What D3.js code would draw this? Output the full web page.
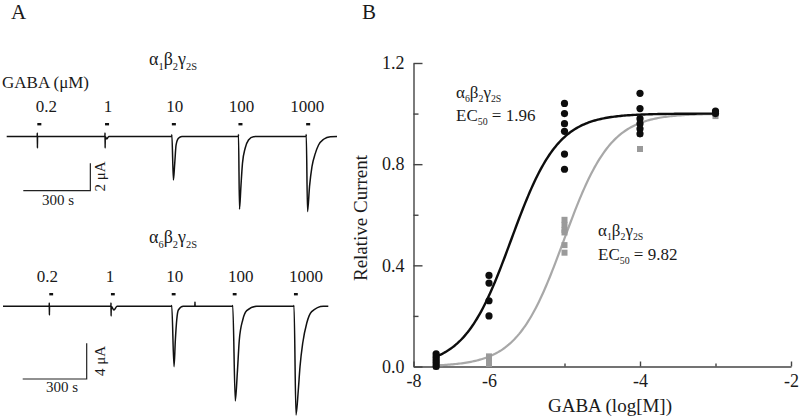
<!DOCTYPE html>
<html><head><meta charset="utf-8">
<script src="https://cdn.jsdelivr.net/npm/d3@7"></script>
<style>
body{margin:0;background:#fff}
svg{display:block}
text{font-family:"Liberation Serif","Times New Roman",serif;fill:#1a1a1a}
</style>
</head><body>
<svg id="c" width="800" height="418"></svg>
<script>
// ---------------- DATA ----------------
// Panel A: GABA concentrations (µM) applied
const concLabels = ["0.2", "1", "10", "100", "1000"];
// application onset times (s) for each trace
const applyTopT = [137, 440, 739, 1037, 1340];
const applyBotT = [217, 506, 791, 1077, 1364];
// current traces: [time (s), current (µA)]
const traceTop = [
  [0,0],[136.5,0],[137,0.26],[137.5,-0.84],[138,0],
  [439.5,0],[440,0.26],[440.5,-0.84],[441,0],[448,-0.18],[457,0],
  [738.5,0],[739,0.12],[746,-3.18],[752,-1.93],[758,-0.62],[768.5,-0.13],[784,0],
  [1036.8,0],[1037.2,0.15],[1041.7,-5.31],[1048,-3.66],[1055,-1.96],[1067,-0.86],[1082,-0.26],[1104,-0.01],[1134,0],
  [1340,0],[1340.4,0.15],[1346.2,-5.49],[1355,-3.66],[1366,-2.2],[1381,-1.23],[1395.5,-0.62],[1418,-0.2],[1448,-0.01],[1478,0]
];
const traceBot = [
  [0,0],[216.5,0],[217,0.37],[217.5,-0.97],[218,0],
  [505.8,0],[506.3,0.37],[506.8,-1.08],[507.3,0],[520,-0.41],[535,0],
  [790.5,0],[791,0.1],[801.7,-6.76],[808,-3.77],[814.4,-1.53],[822,-0.41],[845,0],
  [899.5,0],[900,0.48],[900.5,0],
  [1076.5,0],[1077,0.1],[1089,-10.6],[1098.4,-7.5],[1107.8,-3.77],[1123.8,-1.53],[1142.5,-0.49],[1189,0],
  [1363.8,0],[1364.2,0.1],[1373.6,-12.17],[1384.4,-9.37],[1392.4,-6.76],[1405,-4.14],[1423.8,-1.9],[1447,-0.6],[1501.6,0],[1525,0]
];
const scaleBarTime = 300;      // s
const scaleBarTopAmp = 2;      // µA
const scaleBarBotAmp = 4;      // µA

// Panel B: concentration-response
const logConc = [-6.7, -6, -5, -4, -3];
const alpha6Vals = [
  [0.05,0.04,0.03,0.02,0.01,0.0],
  [0.36,0.33,0.26,0.20],
  [1.04,1.00,0.96,0.93,0.84,0.78],
  [1.08,1.02,0.98,0.96,0.94,0.92],
  [1.01,1.0]
];
const alpha1Vals = [
  [0.01,0.0],
  [0.04,0.03,0.02,0.01],
  [0.58,0.56,0.54,0.53,0.48,0.45],
  [0.97,0.95,0.93,0.92,0.86],
  [1.0,0.99]
];
const ec50Alpha6 = 1.96;   // µM
const ec50Alpha1 = 9.82;   // µM
const hillSlope = 1.4;
const yTickValues = [0, 0.4, 0.8, 1.2];
const yMinorTicks = [0.2, 0.6, 1.0];
const xTickValues = [-7, -6, -4, -2];
const xTickLabels = ["-8", "-6", "-4", "-2"];
const xMinorTicks = [-5, -3];

// ---------------- DRAW ----------------
const svg = d3.select("#c");

function rich(g, x, y, parts, size, anchor) {
  const t = g.append("text").attr("x", x).attr("y", y)
    .attr("font-size", size).attr("text-anchor", anchor || "start");
  let sub = false;
  parts.forEach(([s, isSub]) => {
    const ts = t.append("tspan").text(s);
    if (isSub) {
      ts.attr("font-size", size * 0.58);
      if (!sub) { ts.attr("dy", size * 0.25); sub = true; }
    } else if (sub) { ts.attr("dy", -size * 0.25); sub = false; }
  });
  return t;
}
const subunit = (a) => [["α",0],[a,1],["β",0],["2",1],["γ",0],["2S",1]];

// panel letters
svg.append("text").attr("x", 11).attr("y", 19).attr("font-size", 21).text("A");
svg.append("text").attr("x", 362).attr("y", 19).attr("font-size", 21).text("B");

// ---- Panel A ----
const panels = [
  {trace: traceTop, apply: applyTopT, x: d3.scaleLinear().domain([0,1478]).range([6.7,337]),
   y: d3.scaleLinear().domain([0,-5.5]).range([136.5, 136.5+5.5*13.7]),
   title: "1", titleY: 65, labelY: 112, dashY: 123, labelOff: [9,3,3,3,1],
   bar: {x0: 23.3, y0: 190.7, amp: scaleBarTopAmp, txtY: 204.5, txtX: 58, ampY: 176.5}},
  {trace: traceBot, apply: applyBotT, x: d3.scaleLinear().domain([0,1525]).range([3,328.3]),
   y: d3.scaleLinear().domain([0,-12.2]).range([306.3, 306.3+12.2*8.93]),
   title: "6", titleY: 243, labelY: 281.5, dashY: 293, labelOff: [-2,-1,3,8,12],
   bar: {x0: 22.7, y0: 379, amp: scaleBarBotAmp, txtY: 391.5, txtX: 62, ampY: 361}}
];

svg.append("text").attr("x", 2).attr("y", 88).attr("font-size", 17).text("GABA (μM)");

panels.forEach(p => {
  const g = svg.append("g");
  rich(g, 173, p.titleY, subunit(p.title), 18, "middle");
  // concentration labels and application bars
  p.apply.forEach((t, i) => {
    g.append("text").attr("x", p.x(t) + p.labelOff[i]).attr("y", p.labelY)
      .attr("font-size", 17).attr("text-anchor", "middle").text(concLabels[i]);
    g.append("rect").attr("x", p.x(t)).attr("y", p.dashY)
      .attr("width", p.x(t + 18) - p.x(t)).attr("height", 2.4).attr("fill", "#111");
  });
  // trace
  const line = d3.line().x(d => p.x(d[0])).y(d => p.y(d[1])).curve(d3.curveMonotoneX);
  g.append("path").datum(p.trace).attr("d", line)
    .attr("fill", "none").attr("stroke", "#111").attr("stroke-width", 1.5);
  // scale bar
  const b = p.bar;
  const len = p.x(scaleBarTime) - p.x(0);
  const h = p.y(-b.amp) - p.y(0);
  g.append("path").attr("d", `M${b.x0},${b.y0}H${b.x0+len}V${b.y0-h}`)
    .attr("fill", "none").attr("stroke", "#222").attr("stroke-width", 1.2);
  g.append("text").attr("x", b.txtX).attr("y", b.txtY).attr("font-size", 15)
    .attr("text-anchor", "middle").text(scaleBarTime + " s");
  g.append("text").attr("transform", `translate(105,${b.ampY}) rotate(-90)`)
    .attr("font-size", 15).attr("text-anchor", "middle").text(b.amp + " μA");
});

// ---- Panel B ----
const xB = d3.scaleLinear().domain([-7, -2]).range([413.5, 791]);
const yB = d3.scaleLinear().domain([0, 1.2]).range([366.5, 63]);
const gB = svg.append("g");
const axisCol = "#444";

const yAxis = gB.append("g").attr("transform", `translate(${xB(-7)},0)`)
  .call(d3.axisLeft(yB).tickValues(yTickValues).tickFormat(d3.format(".1f"))
    .tickSizeInner(-9).tickSizeOuter(0).tickPadding(9));
const yMinor = gB.append("g").attr("transform", `translate(${xB(-7)},0)`)
  .call(d3.axisLeft(yB).tickValues(yMinorTicks).tickFormat("").tickSizeInner(-5).tickSizeOuter(0));
yMinor.select(".domain").remove();
const xAxis = gB.append("g").attr("transform", `translate(0,${yB(0)})`)
  .call(d3.axisBottom(xB).tickValues(xTickValues).tickFormat((d, i) => xTickLabels[i])
    .tickSizeInner(-5).tickSizeOuter(0).tickPadding(8));
const xMinor = gB.append("g").attr("transform", `translate(0,${yB(0)})`)
  .call(d3.axisBottom(xB).tickValues(xMinorTicks).tickFormat("").tickSizeInner(-3).tickSizeOuter(0));
xMinor.select(".domain").remove();
[yAxis, yMinor, xAxis, xMinor].forEach(a => {
  a.selectAll("path,line").attr("stroke", axisCol).attr("stroke-width", 1.4);
  a.selectAll("text").attr("font-size", 18).attr("fill", "#1a1a1a")
    .attr("font-family", "Liberation Serif, serif");
});

gB.append("text").attr("transform", `translate(367,218) rotate(-90)`)
  .attr("font-size", 19).attr("text-anchor", "middle").text("Relative Current");
gB.append("text").attr("x", 610).attr("y", 412)
  .attr("font-size", 19).attr("text-anchor", "middle").text("GABA (log[M])");

// Hill fit curves
const hill = (ec) => (x) => 1 / (1 + Math.pow(10, (Math.log10(ec * 1e-6) - x) * hillSlope));
const xs = d3.range(-6.72, -2.999, 0.02);
const fitLine = d3.line().x(d => xB(d[0])).y(d => yB(d[1]));
gB.append("path").datum(xs.map(x => [x, hill(ec50Alpha1)(x)])).attr("d", fitLine)
  .attr("fill", "none").attr("stroke", "#a8a8a8").attr("stroke-width", 2.2);
gB.append("path").datum(xs.map(x => [x, hill(ec50Alpha6)(x)])).attr("d", fitLine)
  .attr("fill", "none").attr("stroke", "#0d0d0d").attr("stroke-width", 2.4);

// points
const flat = (vals) => vals.flatMap((arr, i) => arr.map(v => [logConc[i], v]));
gB.append("g").selectAll("rect").data(flat(alpha1Vals)).join("rect")
  .attr("x", d => xB(d[0]) - 3).attr("y", d => yB(d[1]) - 3)
  .attr("width", 6).attr("height", 6).attr("fill", "#9a9a9a");
gB.append("g").selectAll("circle").data(flat(alpha6Vals)).join("circle")
  .attr("cx", d => xB(d[0])).attr("cy", d => yB(d[1])).attr("r", 3.6).attr("fill", "#0d0d0d");

// annotations
rich(gB, 456, 98, subunit("6"), 17);
rich(gB, 456, 121, [["EC",0],["50",1],[" = " + ec50Alpha6.toFixed(2),0]], 17);
rich(gB, 598, 236, subunit("1"), 17);
rich(gB, 598, 260, [["EC",0],["50",1],[" = " + ec50Alpha1.toFixed(2),0]], 17);
</script>
</body></html>
